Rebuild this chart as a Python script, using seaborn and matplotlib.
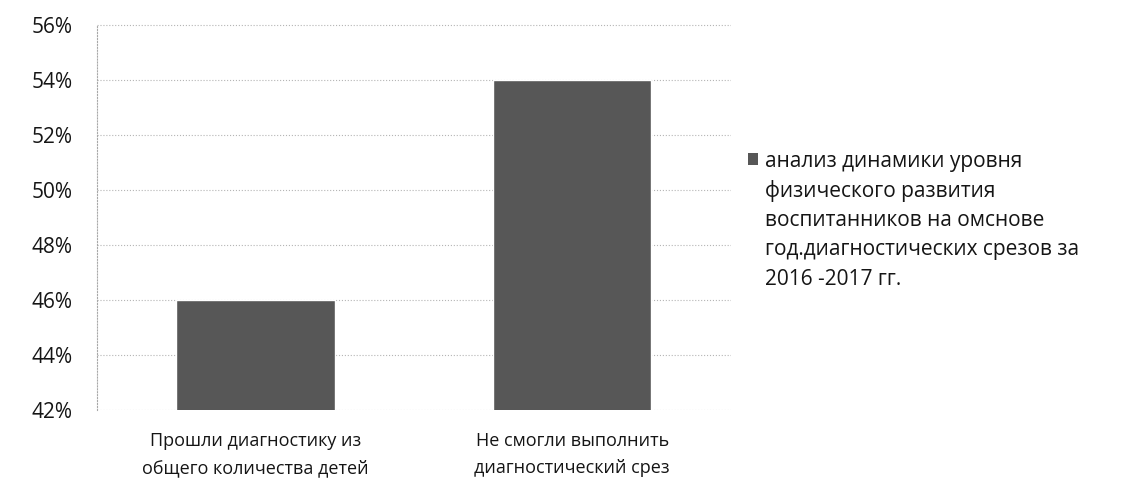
import matplotlib

matplotlib.use("Agg")

import matplotlib.pyplot as plt
import pandas as pd
import seaborn as sns
from matplotlib.patches import Patch
from matplotlib.ticker import PercentFormatter

categories = ["Прошли диагностику из\nобщего количества детей",
              "Не смогли выполнить\nдиагностический срез"]
values = [46, 54]
yticks = [42, 44, 46, 48, 50, 52, 54, 56]
legend_lines = ["анализ динамики уровня",
                "физического развития",
                "воспитанников на омснове",
                "год.диагностических срезов за",
                "2016 -2017 гг."]

sns.set_style("white")
plt.rcParams["font.family"] = ["Open Sans", "DejaVu Sans"]

df = pd.DataFrame({"category": categories, "value": values})

fig = plt.figure(figsize=(11.45, 4.9), dpi=100)
ax = fig.add_axes([0.085, 0.163, 0.553, 0.787])

sns.barplot(data=df, x="category", y="value", color="#575757",
            width=0.5, saturation=1, ax=ax)

ax.set_ylim(42, 56)
ax.set_yticks(yticks)
ax.yaxis.set_major_formatter(PercentFormatter(decimals=0))
ax.grid(axis="y", color="#b5b5b5", linestyle=":", linewidth=0.8)
ax.set_axisbelow(True)
for side in ["top", "right", "bottom"]:
    ax.spines[side].set_visible(False)
ax.spines["left"].set_color("#a8a8a8")
ax.spines["left"].set_linestyle(":")
ax.tick_params(axis="both", length=0, labelcolor="#151515")
ax.tick_params(axis="y", labelsize=15, pad=18)
ax.tick_params(axis="x", labelsize=13, pad=16)
for lbl in ax.get_xticklabels():
    lbl.set_linespacing(1.6)
ax.set_xlabel("")
ax.set_ylabel("")

# legend: marker sits next to the first line, rest of the label wraps below
handle = Patch(facecolor="#575757", edgecolor="none")
leg = fig.legend([handle], [legend_lines[0]], loc="center left",
                 bbox_to_anchor=(0.653, 0.671), frameon=False, fontsize=15,
                 handlelength=0.5, handleheight=0.5, handletextpad=0.35,
                 borderpad=0, borderaxespad=0, labelcolor="#151515")
fig.canvas.draw()
bb = leg.get_texts()[0].get_window_extent().transformed(fig.transFigure.inverted())
fig.text(bb.x0, bb.y0 - 0.016, "\n".join(legend_lines[1:]), ha="left",
         va="top", fontsize=15, color="#151515", linespacing=1.52)

plt.savefig("out.png", dpi=100)
plt.close()
